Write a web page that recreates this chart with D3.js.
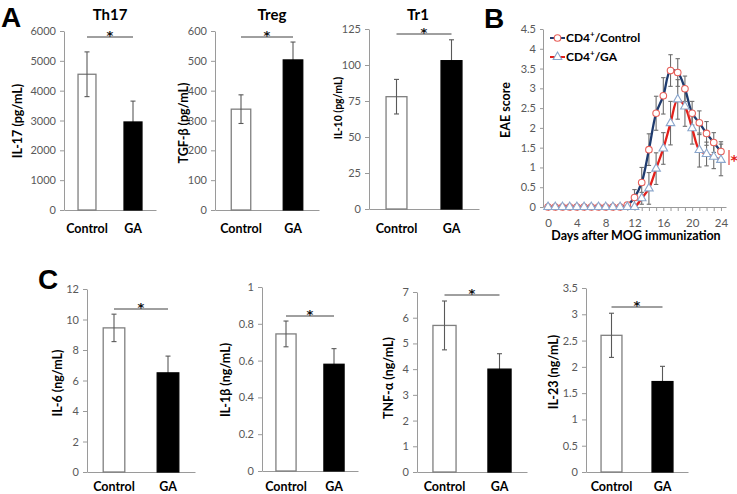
<!DOCTYPE html>
<html><head><meta charset="utf-8">
<script src="https://cdn.jsdelivr.net/npm/d3@7"></script>
<style>
body{margin:0;background:#fff;}
svg{display:block;}
text{font-family:Lato,"Open Sans",sans-serif;}
</style></head>
<body>
<script>
// ---------- DATA ----------
const barCats = ["Control", "GA"];

const th17Vals = [4550, 2950];   const th17Err = [750, 700];
const th17Ticks = [0, 1000, 2000, 3000, 4000, 5000, 6000];
const tregVals = [338, 503];     const tregErr = [48, 60];
const tregTicks = [0, 100, 200, 300, 400, 500, 600];
const tr1Vals = [78, 103];       const tr1Err = [12, 14.5];
const tr1Ticks = [0, 25, 50, 75, 100, 125];

const il6Vals = [9.45, 6.5];     const il6Err = [0.9, 1.1];
const il6Ticks = [0, 2, 4, 6, 8, 10, 12];
const il1bVals = [0.745, 0.58];  const il1bErr = [0.07, 0.085];
const il1bTicks = [0, 0.2, 0.4, 0.6, 0.8, 1];
const tnfVals = [5.7, 4.0];      const tnfErr = [0.95, 0.6];
const tnfTicks = [0, 1, 2, 3, 4, 5, 6, 7];
const il23Vals = [2.6, 1.72];    const il23Err = [0.42, 0.29];
const il23Ticks = [0, 0.5, 1, 1.5, 2, 2.5, 3, 3.5];

const days = [0,1,2,3,4,5,6,7,8,9,10,11,12,13,14,15,16,17,18,19,20,21,22,23,24];
const dayLabelTicks = [0, 4, 8, 12, 16, 20, 24];
const eaeTicks = [0, 0.5, 1, 1.5, 2, 2.5, 3, 3.5, 4, 4.5];
const ctrlScore = [0,0,0,0,0,0,0,0,0,0,0,0.05,0.24,0.62,1.45,2.37,2.81,3.45,3.40,2.99,2.37,2.13,1.86,1.63,1.40];
const ctrlErr   = [0,0,0,0,0,0,0,0,0,0,0,0.05,0.2,0.38,0.4,0.43,0.46,0.4,0.35,0.32,0.3,0.3,0.3,0.25,0.25];
const gaScore   = [0,0,0,0,0,0,0,0,0,0,0,0,0,0.22,0.47,0.97,1.48,2.12,2.72,2.54,1.99,1.44,1.34,1.27,1.19];
const gaErr     = [0,0,0,0,0,0,0,0,0,0,0,0,0,0.15,0.4,0.4,0.4,0.55,0.5,0.5,0.4,0.43,0.3,0.3,0.4];

// ---------- DRAW ----------
const W = 737, H = 494;
const svg = d3.select("body").append("svg").attr("width", W).attr("height", H);
svg.append("rect").attr("width", W).attr("height", H).attr("fill", "#fff");

const AXIS_COL = "#9a9a9a", TICK_TXT = "#595959", ERR_COL = "#595959";
const STAR_FONT = "'DejaVu Sans', sans-serif";

function styleAxis(sel, fs) {
  sel.select(".domain").attr("stroke", AXIS_COL).attr("stroke-width", 1);
  sel.selectAll(".tick line").attr("stroke", AXIS_COL);
  sel.selectAll(".tick text").attr("fill", TICK_TXT).style("font-size", fs + "px")
     .style("font-family", "Lato, sans-serif");
}

function barPanel(o) {
  const g = svg.append("g");
  const x = d3.scaleBand().domain(barCats).range([o.x0, o.x1])
    .paddingInner(o.pad).paddingOuter(o.pad / 2);
  const y = d3.scaleLinear().domain([0, o.max]).range([o.yb, o.yt]);

  const ya = g.append("g").attr("transform", `translate(${o.x0},0)`)
    .call(d3.axisLeft(y).tickValues(o.ticks).tickSize(4).tickSizeOuter(0).tickPadding(4)
      .tickFormat(d => String(d)));
  styleAxis(ya, o.tfs || 11);

  const xa = g.append("g").attr("transform", `translate(0,${o.yb})`)
    .call(d3.axisBottom(x).tickSize(0).tickSizeOuter(0));
  styleAxis(xa, 12.5);
  xa.selectAll(".tick text").attr("dy", null).attr("y", o.labOff)
    .attr("fill", "#000").style("font-weight", "bold").style("font-size", "12.5px");

  barCats.forEach((c, i) => {
    const v = o.vals[i], e = o.errs[i];
    const cx = x(c) + x.bandwidth() / 2;
    const drawBar = () => g.append("rect")
      .attr("x", x(c)).attr("y", y(v)).attr("width", x.bandwidth()).attr("height", y(0) - y(v))
      .attr("fill", i ? "#000" : "#fff").attr("stroke", i ? "#000" : "#7f7f7f").attr("stroke-width", 1.3);
    const drawErr = () => {
      const eg = g.append("g").attr("stroke", ERR_COL).attr("stroke-width", 1.1);
      eg.append("line").attr("x1", cx).attr("x2", cx).attr("y1", y(v - e)).attr("y2", y(v + e));
      eg.append("line").attr("x1", cx - 2.5).attr("x2", cx + 2.5).attr("y1", y(v + e)).attr("y2", y(v + e));
      eg.append("line").attr("x1", cx - 2.5).attr("x2", cx + 2.5).attr("y1", y(v - e)).attr("y2", y(v - e));
    };
    if (i === 0) { drawBar(); drawErr(); } else { drawErr(); drawBar(); }
  });

  // significance
  const c0 = x(barCats[0]) + x.bandwidth() / 2, c1 = x(barCats[1]) + x.bandwidth() / 2;
  g.append("line").attr("x1", c0).attr("x2", c1).attr("y1", o.sigY).attr("y2", o.sigY)
    .attr("stroke", "#404040").attr("stroke-width", 1);
  g.append("text").attr("x", (c0 + c1) / 2).attr("y", o.sigY + 2.5).attr("text-anchor", "middle")
    .attr("fill", "#111")
    .style("font-family", STAR_FONT).style("font-weight", "bold").style("font-size", "13px").text("*");

  // y label
  g.append("text").attr("transform", `translate(${o.ylx},${o.yly}) rotate(-90)`)
    .attr("text-anchor", "middle").attr("dominant-baseline", "central")
    .style("font-weight", "bold").style("font-size", (o.ylfs || 12.5) + "px").text(o.ylab);

  if (o.title) {
    g.append("text").attr("x", o.tx).attr("y", 20).attr("text-anchor", "middle")
      .style("font-weight", "bold").style("font-size", "15px").text(o.title);
  }
}

// Panel A
barPanel({x0: 64, x1: 156, yb: 210, yt: 31, max: 6000, ticks: th17Ticks, pad: 0.61,
  vals: th17Vals, errs: th17Err, sigY: 37, labOff: 23, ylab: "IL-17 (pg/mL)", ylx: 17, yly: 121,
  title: "Th17", tx: 110});
barPanel({x0: 215, x1: 319, yb: 210, yt: 31, max: 600, ticks: tregTicks, pad: 0.625,
  vals: tregVals, errs: tregErr, sigY: 37, labOff: 23, ylab: "TGF-β (pg/mL)", ylx: 183, yly: 123,
  title: "Treg", tx: 272});
barPanel({x0: 369, x1: 479, yb: 209, yt: 29, max: 125, ticks: tr1Ticks, pad: 0.62,
  vals: tr1Vals, errs: tr1Err, sigY: 34, labOff: 24, ylab: "IL-10 (pg/mL)", ylx: 338, yly: 108, ylfs: 10.5,
  title: "Tr1", tx: 418});

// Panel C
barPanel({x0: 87, x1: 195, yb: 472, yt: 289, max: 12, ticks: il6Ticks, pad: 0.6,
  vals: il6Vals, errs: il6Err, sigY: 309, labOff: 19, ylab: "IL-6 (ng/mL)", ylx: 57, yly: 383});
barPanel({x0: 262, x1: 358, yb: 471, yt: 287, max: 1, ticks: il1bTicks, pad: 0.58,
  vals: il1bVals, errs: il1bErr, sigY: 316, labOff: 20, ylab: "IL-1β (ng/mL)", ylx: 225, yly: 380});
barPanel({x0: 417, x1: 527, yb: 472, yt: 292, max: 7, ticks: tnfTicks, pad: 0.58,
  vals: tnfVals, errs: tnfErr, sigY: 295, labOff: 19, ylab: "TNF-α (ng/mL)", ylx: 388, yly: 378});
barPanel({x0: 586, x1: 688, yb: 472, yt: 288, max: 3.5, ticks: il23Ticks, pad: 0.59,
  vals: il23Vals, errs: il23Err, sigY: 307, labOff: 19, ylab: "IL-23 (ng/mL)", ylx: 553, yly: 372});

// Panel B
(function () {
  const g = svg.append("g");
  const x = d3.scaleLinear().domain([-0.7, 24.7]).range([543, 726]);
  const y = d3.scaleLinear().domain([0, 4.5]).range([207, 29]);

  const ya = g.append("g").attr("transform", "translate(543,0)")
    .call(d3.axisLeft(y).tickValues(eaeTicks).tickSize(3).tickSizeOuter(0).tickPadding(4)
      .tickFormat(d => String(d)));
  styleAxis(ya, 11);

  const xm = g.append("g").attr("transform", "translate(0,207)")
    .call(d3.axisBottom(x).tickValues(days).tickSize(4).tickSizeOuter(0).tickFormat(""));
  styleAxis(xm, 11);
  const xl = g.append("g").attr("transform", "translate(0,207)")
    .call(d3.axisBottom(x).tickValues(dayLabelTicks).tickSize(0).tickSizeOuter(0).tickFormat(d => String(d)));
  styleAxis(xl, 11.5);
  xl.select(".domain").remove();
  xl.selectAll(".tick text").attr("dy", null).attr("y", 20);

  g.append("text").attr("x", 636).attr("y", 240).attr("text-anchor", "middle")
    .style("font-weight", "bold").style("font-size", "12.5px").text("Days after MOG immunization");
  g.append("text").attr("transform", "translate(505,110) rotate(-90)").attr("text-anchor", "middle")
    .attr("dominant-baseline", "central").style("font-weight", "bold").style("font-size", "12.5px").text("EAE score");

  const ctrl = days.map((d, i) => ({d, v: ctrlScore[i], e: ctrlErr[i]}));
  const ga = days.map((d, i) => ({d, v: gaScore[i], e: gaErr[i]}));

  // error bars
  [ctrl, ga].forEach(ser => {
    ser.filter(p => p.e > 0).forEach(p => {
      const eg = g.append("g").attr("stroke", "#6e6e6e").attr("stroke-width", 1.1);
      const cx = x(p.d);
      eg.append("line").attr("x1", cx).attr("x2", cx).attr("y1", y(Math.max(0, p.v - p.e))).attr("y2", y(p.v + p.e));
      eg.append("line").attr("x1", cx - 2.2).attr("x2", cx + 2.2).attr("y1", y(p.v + p.e)).attr("y2", y(p.v + p.e));
      eg.append("line").attr("x1", cx - 2.2).attr("x2", cx + 2.2).attr("y1", y(Math.max(0, p.v - p.e))).attr("y2", y(Math.max(0, p.v - p.e)));
    });
  });

  const line = d3.line().x(p => x(p.d)).y(p => y(p.v)).curve(d3.curveCatmullRom.alpha(0.5));
  g.append("path").datum(ctrl).attr("d", line).attr("fill", "none").attr("stroke", "#1f3b6e").attr("stroke-width", 2.3);
  g.append("path").datum(ga).attr("d", line).attr("fill", "none").attr("stroke", "#e3201b").attr("stroke-width", 2.3);

  g.selectAll("circle.c").data(ctrl).join("circle").attr("cx", p => x(p.d)).attr("cy", p => y(p.v)).attr("r", 3.3)
    .attr("fill", "#fff").attr("stroke", "#e8605a").attr("stroke-width", 1.1);
  const tri = d3.symbol(d3.symbolTriangle).size(32);
  g.selectAll("path.t").data(ga).join("path").attr("d", tri)
    .attr("transform", p => `translate(${x(p.d)},${y(p.v)})`)
    .attr("fill", "#fff").attr("stroke", "#8aa6cc").attr("stroke-width", 1.1);

  // legend
  const lg = g.append("g");
  lg.append("line").attr("x1", 550).attr("x2", 565).attr("y1", 38).attr("y2", 38).attr("stroke", "#1f3b6e").attr("stroke-width", 2);
  lg.append("circle").attr("cx", 557.5).attr("cy", 38).attr("r", 3.3).attr("fill", "#fff").attr("stroke", "#e8605a").attr("stroke-width", 1.1);
  lg.append("line").attr("x1", 550).attr("x2", 565).attr("y1", 57).attr("y2", 57).attr("stroke", "#e3201b").attr("stroke-width", 2);
  lg.append("path").attr("d", tri).attr("transform", "translate(557.5,57)").attr("fill", "#fff").attr("stroke", "#8aa6cc").attr("stroke-width", 1.1);
  const legTxt = [["Control", 42], ["GA", 61]];
  legTxt.forEach(([s, yy]) => {
    const t = lg.append("text").attr("x", 566).attr("y", yy).style("font-weight", "bold").style("font-size", "12px");
    t.append("tspan").text("CD4");
    t.append("tspan").attr("dy", -5).style("font-size", "8px").text("+");
    t.append("tspan").attr("dy", 5).text("/" + s);
  });

  // significance marker
  g.append("line").attr("x1", 729).attr("x2", 729).attr("y1", 150).attr("y2", 165).attr("stroke", "#e3201b").attr("stroke-width", 1);
  g.append("text").attr("x", 730.5).attr("y", 165).attr("fill", "#e3201b")
    .style("font-family", STAR_FONT).style("font-weight", "bold").style("font-size", "14px").text("*");
})();

// Panel letters
const letters = [["A", 1, 27], ["B", 484, 28], ["C", 38, 289]];
letters.forEach(([s, lx, ly]) => {
  svg.append("text").attr("x", lx).attr("y", ly).style("font-family", "'Liberation Sans', Arial, sans-serif")
    .style("font-weight", "bold").style("font-size", "28px").text(s);
});
</script>
</body></html>
